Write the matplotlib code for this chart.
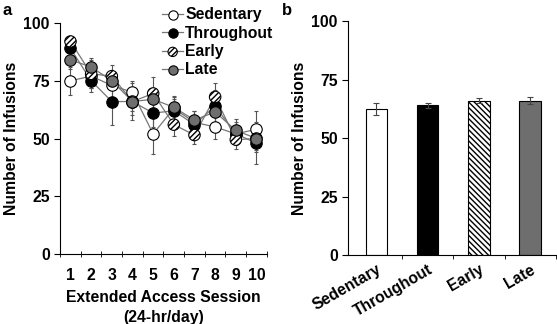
import numpy as np
import matplotlib.pyplot as plt
from matplotlib.ticker import FixedLocator
from matplotlib.legend_handler import HandlerPathCollection
from matplotlib.lines import Line2D

plt.rcParams['font.family'] = ['Liberation Sans', 'DejaVu Sans']
plt.rcParams['font.weight'] = 'bold'
plt.rcParams['hatch.linewidth'] = 1.0

sessions = [1, 2, 3, 4, 5, 6, 7, 8, 9, 10]

sedentary = [75, 77, 73, 70, 52, 63, 57, 55, 52, 54]
sedentary_err = [6, 5, 5, 5, 8.5, 5, 5, 5, 4, 8]
throughout = [89, 75, 66, 66, 61, 62, 56, 64, 52, 48]
throughout_err = [3, 5, 10, 8, 6, 5, 4, 7, 5, 9]
early = [92, 78, 77, 66, 69.5, 56, 51.5, 68, 49.5, 50]
early_err = [2, 6, 5, 6, 7, 5, 4, 6, 4, 6]
late = [84, 81, 75, 66, 67, 63.5, 58, 61.5, 53.5, 50]
late_err = [4, 4, 4, 4, 5, 5, 4, 5, 5, 5]

groups = ['Sedentary', 'Throughout', 'Early', 'Late']
bar_means = [62.5, 64, 66, 66]
bar_err = [2.5, 1, 1, 1.5]

FS = 11.3

fig = plt.figure(figsize=(5.57, 3.24), dpi=100)
ax1 = fig.add_axes([0.108, 0.216, 0.371, 0.713])
ax2 = fig.add_axes([0.625, 0.213, 0.373, 0.722])

gray = '#6e6e6e'
styles = [
    ('Sedentary', sedentary, sedentary_err, 'white', None),
    ('Throughout', throughout, throughout_err, 'black', None),
    ('Early', early, early_err, 'white', '//////'),
    ('Late', late, late_err, gray, None),
]

handles = []
for name, vals, errs, fc, hatch in styles:
    ax1.errorbar(sessions, vals, yerr=errs, fmt='none', ecolor='#555555',
                 elinewidth=0.8, capsize=1.5, capthick=0.8, zorder=1)
    ax1.plot(sessions, vals, color='#777777', lw=0.9, zorder=2)
    ax1.scatter(sessions, vals, s=68, facecolor=fc, edgecolor='black',
                hatch=hatch, linewidth=0.8, zorder=3)
    h = ax1.scatter([], [], s=45, facecolor=fc, edgecolor='black',
                    hatch=hatch, linewidth=0.8)
    handles.append(h)


class LineMarkerHandler(HandlerPathCollection):
    def create_artists(self, legend, orig_handle, xdescent, ydescent,
                       width, height, fontsize, trans):
        artists = super().create_artists(legend, orig_handle, xdescent, ydescent,
                                         width, height, fontsize, trans)
        y = height / 2 - ydescent
        line = Line2D([-xdescent, width - xdescent], [y, y], color='#777777',
                      lw=0.9, transform=trans)
        return [line] + artists


fig.legend(handles, [s[0] for s in styles], loc='upper left',
           bbox_to_anchor=(0.272, 1.012), frameon=False, fontsize=FS,
           handlelength=1.3, handletextpad=0.15, labelspacing=0.22,
           borderpad=0.2, scatterpoints=1,
           handler_map={type(handles[0]): LineMarkerHandler(numpoints=1)})

ax1.set_xlim(0.5, 10.5)
ax1.set_ylim(0, 100)
ax1.set_yticks([0, 25, 50, 75, 100])
ax1.set_xticks(sessions)
ax1.xaxis.set_minor_locator(FixedLocator(np.arange(0.5, 11, 1)))
ax1.tick_params(axis='x', which='major', length=0, labelsize=FS, pad=10)
ax1.tick_params(axis='x', which='minor', length=4, direction='inout')
ax1.tick_params(axis='y', labelsize=FS, length=4, direction='out')
ax1.set_xlabel('Extended Access Session\n(24-hr/day)', fontsize=FS,
               fontweight='bold', labelpad=5, linespacing=1.45)
ax1.set_ylabel('Number of Infusions', fontsize=FS, fontweight='bold', labelpad=3)

xb = np.arange(len(groups))
bar_fc = ['white', 'black', 'white', gray]
bar_hatch = [None, None, '\\\\\\\\\\\\', None]
bars = ax2.bar(xb, bar_means, width=0.42, color=bar_fc, edgecolor='black',
               linewidth=0.8, zorder=2)
for b, h in zip(bars, bar_hatch):
    if h:
        b.set_hatch(h)
ax2.errorbar(xb, bar_means, yerr=bar_err, fmt='none', ecolor='#444444',
             elinewidth=0.8, capsize=2, capthick=0.8, zorder=3)
ax2.set_xlim(-0.55, 3.5)
ax2.set_ylim(0, 100)
ax2.set_yticks([0, 25, 50, 75, 100])
ax2.set_xticks(xb)
ax2.set_xticklabels(groups, rotation=30, ha='right', rotation_mode='anchor')
ax2.xaxis.set_minor_locator(FixedLocator([0.5, 1.5, 2.5, 3.5]))
ax2.tick_params(axis='x', which='major', length=0, labelsize=FS, pad=5)
ax2.tick_params(axis='x', which='minor', length=3, direction='out')
ax2.tick_params(axis='y', labelsize=FS, length=4, direction='out')
ax2.set_ylabel('Number of Infusions', fontsize=FS, fontweight='bold', labelpad=3)

for ax in (ax1, ax2):
    ax.spines['top'].set_visible(False)
    ax.spines['right'].set_visible(False)
    ax.spines['left'].set_linewidth(0.8)
    ax.spines['bottom'].set_linewidth(0.8)

fig.text(0.004, 0.99, 'a', fontsize=12, fontweight='bold', va='top')
fig.text(0.506, 0.99, 'b', fontsize=12, fontweight='bold', va='top')

fig.savefig('out.png', dpi=100)
